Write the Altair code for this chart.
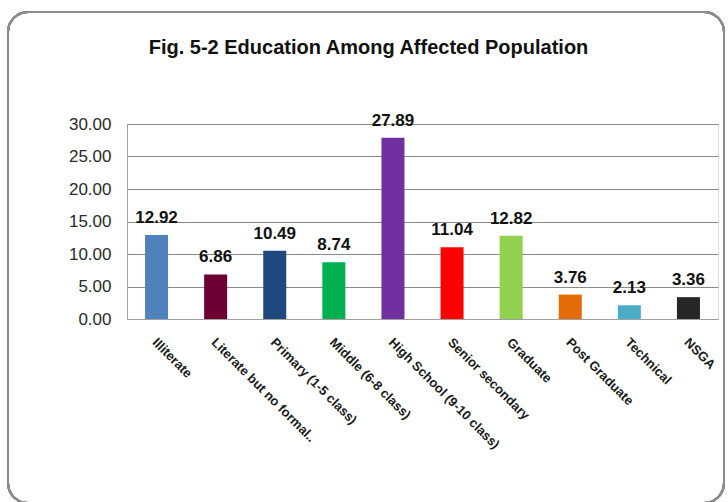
import altair as alt
import pandas as pd

categories = [
    "Illiterate",
    "Literate but no formal..",
    "Primary (1-5 class)",
    "Middle (6-8 class)",
    "High School (9-10 class)",
    "Senior secondary",
    "Graduate",
    "Post Graduate",
    "Technical",
    "NSGA",
]
values = [12.92, 6.86, 10.49, 8.74, 27.89, 11.04, 12.82, 3.76, 2.13, 3.36]
colors = ["#4F81BD", "#6B0032", "#1F497D", "#00B050", "#7030A0",
          "#FF0000", "#92D050", "#E36C09", "#4BACC6", "#262626"]
y_ticks = [0, 5, 10, 15, 20, 25, 30]

df = pd.DataFrame({"cat": categories, "val": values, "color": colors})

W, H = 591, 195
PL, PT = 127, 124

x_enc = alt.X("cat:N", sort=categories, title=None,
              axis=alt.Axis(labelAngle=45, labelAlign="left", labelBaseline="middle",
                            labelFont="Liberation Sans", labelFontWeight="bold",
                            labelFontSize=13, labelColor="#1a1a1a", labelPadding=21,
                            labelLimit=300, ticks=False, domainColor="#a0a0a0",
                            labelOffset=-2))
y_enc = alt.Y("val:Q", title=None,
              scale=alt.Scale(domain=[0, 30], nice=False),
              axis=alt.Axis(values=y_ticks, format=".2f", labelOverlap=False,
                            tickCount=7,
                            labelFont="Liberation Sans", labelFontSize=17,
                            labelColor="#2a2a2a", labelPadding=16, ticks=False,
                            domainColor="#a0a0a0", gridColor="#8a8a8a",
                            gridWidth=1))

bars = alt.Chart(df).mark_bar(size=23).encode(
    x=x_enc, y=y_enc,
    color=alt.Color("color:N", scale=None),
)

labels = alt.Chart(df).mark_text(
    font="Liberation Sans", fontWeight="bold", fontSize=17,
    baseline="alphabetic", dy=-12, color="#111111",
).encode(
    x=x_enc,
    y=y_enc,
    text=alt.Text("val:Q", format=".2f"),
)

border = alt.Chart(df).mark_rect(
    cornerRadius=20, fill=None, stroke="#8c8c8c", strokeWidth=2,
).encode(
    x=alt.value(8 - PL), x2=alt.value(724 - PL),
    y=alt.value(12 - PT), y2=alt.value(503 - PT),
)

chart = alt.layer(border, bars, labels).properties(
    width=W, height=H,
    title=alt.TitleParams(
        "Fig. 5-2 Education Among Affected Population",
        font="Liberation Sans Narrow, Liberation Sans", fontSize=20,
        fontWeight="bold", color="#111111", anchor="middle",
        baseline="alphabetic", offset=0, dy=63, dx=-54,
    ),
    autosize=alt.AutoSizeParams(type="none"),
    padding={"left": PL, "top": PT, "right": 728 - PL - W, "bottom": 502 - PT - H},
).configure_view(stroke=None).configure(background="white")

chart.save("out.html", embed_options={"renderer": "svg", "actions": False})
